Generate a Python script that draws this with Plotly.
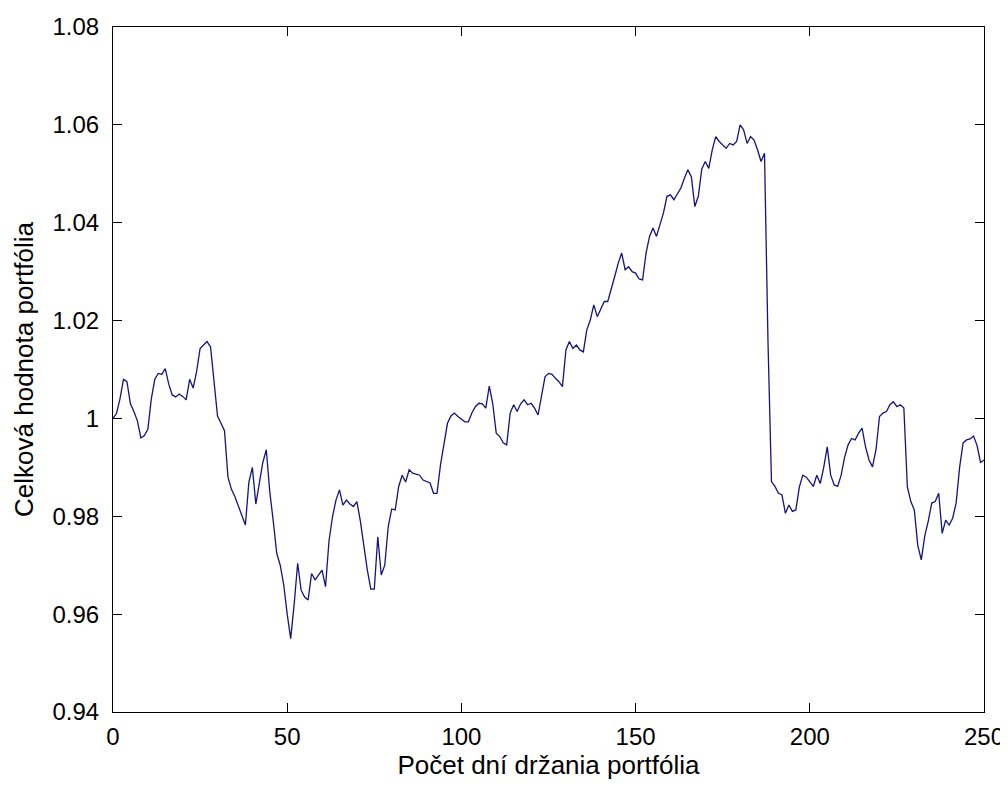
import plotly.graph_objects as go

days = list(range(0, 251))

portfolio_value = [
    1.0000, 1.0010, 1.0040, 1.0080, 1.0075, 1.0030, 1.0014, 0.9995, 0.9960, 0.9965,
    0.9978, 1.0040, 1.0080, 1.0092, 1.0090, 1.0102, 1.0070, 1.0048, 1.0044, 1.0050,
    1.0045, 1.0038, 1.0080, 1.0062, 1.0096, 1.0143, 1.0150, 1.0157, 1.0146, 1.0080,
    1.0005, 0.9990, 0.9975, 0.9880, 0.9855, 0.9840, 0.9820, 0.9800, 0.9782, 0.9870,
    0.9900, 0.9825, 0.9865, 0.9910, 0.9936, 0.9850, 0.9790, 0.9724, 0.9700, 0.9660,
    0.9600, 0.9550, 0.9620, 0.9704, 0.9649, 0.9635, 0.9629, 0.9683, 0.9670, 0.9680,
    0.9690, 0.9656, 0.9750, 0.9799, 0.9833, 0.9854, 0.9823, 0.9833, 0.9825, 0.9820,
    0.9830, 0.9790, 0.9740, 0.9690, 0.9651, 0.9651, 0.9758, 0.9680, 0.9700, 0.9779,
    0.9815, 0.9813, 0.9861, 0.9884, 0.9870, 0.9895, 0.9888, 0.9886, 0.9884, 0.9874,
    0.9871, 0.9868, 0.9847, 0.9847, 0.9905, 0.9950, 0.9990, 1.0005, 1.0011, 1.0004,
    0.9998, 0.9993, 0.9993, 1.0011, 1.0024, 1.0031, 1.0030, 1.0021, 1.0066, 1.0030,
    0.9970, 0.9963, 0.9950, 0.9946, 1.0011, 1.0028, 1.0014, 1.0030, 1.0038, 1.0028,
    1.0031, 1.0021, 1.0007, 1.0050, 1.0085, 1.0092, 1.0090, 1.0082, 1.0075, 1.0065,
    1.0140, 1.0157, 1.0143, 1.0150, 1.0140, 1.0136, 1.0181, 1.0201, 1.0232, 1.0208,
    1.0225, 1.0239, 1.0239, 1.0263, 1.0290, 1.0317, 1.0338, 1.0304, 1.0310, 1.0300,
    1.0297, 1.0285, 1.0283, 1.0338, 1.0372, 1.0389, 1.0372, 1.0396, 1.0420, 1.0454,
    1.0457, 1.0447, 1.0460, 1.0471, 1.0491, 1.0508, 1.0494, 1.0433, 1.0454, 1.0510,
    1.0525, 1.0511, 1.0549, 1.0576, 1.0566, 1.0560, 1.0552, 1.0562, 1.0559, 1.0566,
    1.0600, 1.0590, 1.0562, 1.0576, 1.0569, 1.0549, 1.0525, 1.0542, 1.0157, 0.9871,
    0.9861, 0.9847, 0.9844, 0.9806, 0.9823, 0.9810, 0.9813, 0.9860, 0.9884, 0.9880,
    0.9870, 0.9861, 0.9884, 0.9867, 0.9900, 0.9942, 0.9884, 0.9864, 0.9861, 0.9884,
    0.9921, 0.9946, 0.9959, 0.9956, 0.9970, 0.9980, 0.9942, 0.9915, 0.9901, 0.9936,
    1.0004, 1.0011, 1.0014, 1.0028, 1.0034, 1.0024, 1.0028, 1.0021, 0.9860, 0.9830,
    0.9813, 0.9740, 0.9711, 0.9760, 0.9790, 0.9827, 0.9830, 0.9847, 0.9765, 0.9792,
    0.9782, 0.9796, 0.9827, 0.9900, 0.9950, 0.9956, 0.9958, 0.9964, 0.9945, 0.9910,
    0.9915,
]

x_ticks = [0, 50, 100, 150, 200, 250]
y_ticks = [0.94, 0.96, 0.98, 1.00, 1.02, 1.04, 1.06, 1.08]
y_tick_labels = ["0.94", "0.96", "0.98", "1", "1.02", "1.04", "1.06", "1.08"]

fig = go.Figure()
fig.add_trace(go.Scatter(
    x=days, y=portfolio_value, mode="lines",
    line=dict(color="rgb(20,20,125)", width=1.3),
    showlegend=False,
))

tick_font = dict(family="Liberation Sans, Arial, sans-serif", size=24, color="black")
title_font = dict(family="Liberation Sans, Arial, sans-serif", size=26, color="black")

fig.update_layout(
    width=1000, height=779,
    margin=dict(l=105, r=24, t=19, b=75),
    paper_bgcolor="white", plot_bgcolor="white",
    font=tick_font,
    xaxis=dict(
        range=[0, 250], tickvals=x_ticks, ticks="inside", ticklen=9,
        tickcolor="black", showline=True, linecolor="black", linewidth=1,
        mirror="ticks", showgrid=False, zeroline=False, automargin=False,
        tickfont=tick_font, ticklabelstandoff=3,
        title=dict(text="Počet dní držania portfólia", font=title_font, standoff=7),
    ),
    yaxis=dict(
        range=[0.94, 1.08], tickvals=y_ticks, ticktext=y_tick_labels,
        ticks="inside", ticklen=9, tickcolor="black", showline=True,
        linecolor="black", linewidth=1, mirror="ticks", showgrid=False,
        zeroline=False, automargin=False, tickfont=tick_font,
        ticklabelstandoff=8,
        title=dict(text="Celková hodnota portfólia", font=title_font, standoff=11),
    ),
)

fig.write_html("out.html")
